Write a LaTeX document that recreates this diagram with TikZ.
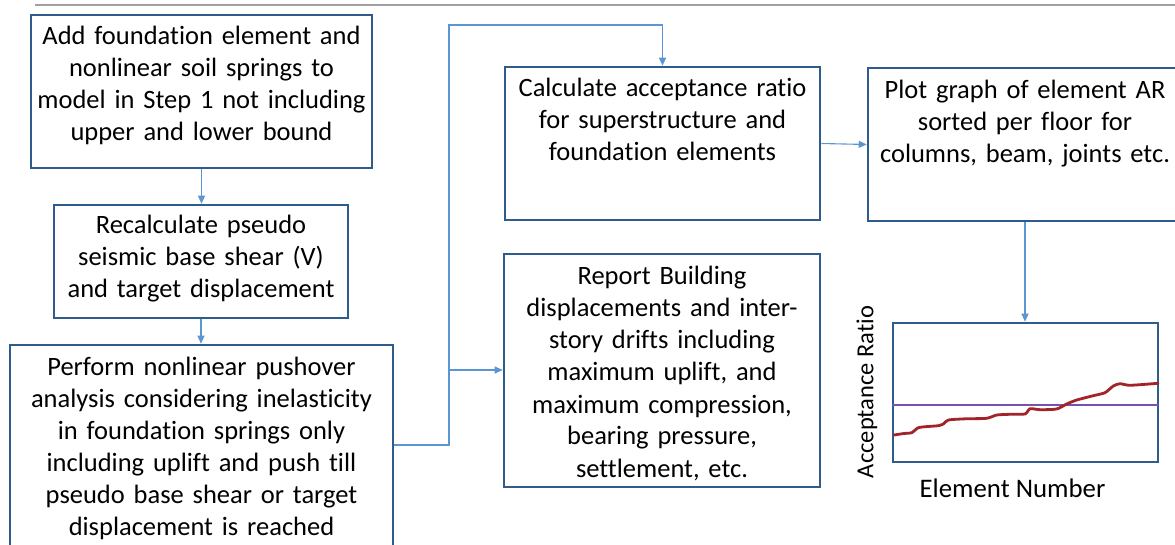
\documentclass[tikz,border=0pt]{standalone}
\usepackage{fontspec}
\setmainfont{Carlito}[Ligatures={NoCommon}]
\usetikzlibrary{arrows.meta,calc}

\definecolor{boxblue}{RGB}{46,93,140}
\definecolor{linkblue}{RGB}{91,150,212}
\definecolor{rulegray}{RGB}{160,160,160}
\definecolor{curvered}{RGB}{160,36,40}
\definecolor{limitpurple}{RGB}{120,80,175}

\tikzset{
  box/.style={draw=boxblue, line width=2.6pt, fill=white, inner sep=0pt},
  txt/.style={inner sep=0pt, text width=#1, align=center,
              font=\fontsize{26.5}{32}\selectfont, anchor=base},
  txt/.default=360pt,
  conn/.style={draw=linkblue, line width=1.1pt,
               -{Triangle[length=8pt,width=7pt]}},
  chartlbl/.style={inner sep=0pt, font=\fontsize{24.5}{28}\selectfont, anchor=base},
}

\begin{document}
\begin{tikzpicture}[x=1pt, y=-1pt]
\useasboundingbox (0,0) rectangle (1175,545);

% header rule
\draw[rulegray, line width=2.5pt] (35,5) -- (1175,5);

% process boxes
\node[box, minimum width=341pt, minimum height=153pt] (A) at (201.5,91.5) {};
\node[box, minimum width=294pt, minimum height=113pt] (B) at (201,261.5) {};
\node[box, minimum width=383pt, minimum height=215pt] (C) at (201.5,452.5) {};
\node[box, minimum width=315pt, minimum height=153pt] (D) at (662.5,143.5) {};
\node[box, minimum width=316pt, minimum height=233pt] (E) at (662,370.5) {};
\node[box, minimum width=314pt, minimum height=153pt] (F) at (1025,144.5) {};
\node[box, minimum width=265pt, minimum height=139pt] (G) at (1025.5,392.5) {};

% box texts
\node[txt] (At) at (201.5,45) {Add foundation element and\\nonlinear soil springs to\\model in Step 1 not including\\upper and lower bound};
\node[txt] (Bt) at (201,234) {Recalculate pseudo\\seismic base shear (V)\\and target displacement};
\node[txt] (Ct) at (201.5,375) {Perform nonlinear pushover\\analysis considering inelasticity\\in foundation springs only\\including uplift and push till\\pseudo base shear or target\\displacement is reached};
\node[txt] (Dt) at (662.5,96.7) {Calculate acceptance ratio\\for superstructure and\\foundation elements};
\node[txt] (Et) at (662,285) {Report Building\\displacements and inter-\\story drifts including\\maximum uplift, and\\maximum compression,\\bearing pressure,\\settlement, etc.};
\node[txt] (Ft) at (1025,98.3) {Plot graph of element AR\\sorted per floor for\\columns, beam, joints etc.};

% connectors
\coordinate (j1) at (449,445);
\coordinate (j2) at (449,25);
\coordinate (j3) at (449,370);
\draw[conn] (A.south) -- (A.south |- B.north);
\draw[conn] (B.south) -- (B.south |- C.north);
\draw[conn] (C.east |- j1) -- (j1) -- (j2) -- (j2 -| D.north) -- (D.north);
\draw[conn] (j3) -- (j3 -| E.west);
\draw[conn] (D.east) -- (F.west);
\draw[conn] (F.south) -- (F.south |- G.north);

% acceptance ratio chart
\draw[limitpurple, line width=1.2pt] (G.west |- 0,405) -- (G.east |- 0,405);
\draw[curvered, line width=2.8pt, line join=round, line cap=round]
  plot[smooth, tension=0.4] coordinates {
    (894,435) (904,433.5) (911.7,432.7) (918.3,427.7) (928,426.5) (938.3,425.7)
    (943.3,424) (948.3,420) (966,418.8) (986.7,418.3) (996.7,415) (1010,414.3)
    (1025,414) (1030,408.7) (1040,409.7) (1056.7,409) (1066.7,404) (1076.7,400)
    (1093.3,395.7) (1105,392.7) (1113.3,386) (1120,383.7) (1130,385.3) (1158,383.3)};

\node[chartlbl, rotate=90] (ylab) at (873.3,392) {Acceptance Ratio};
\node[chartlbl, font=\fontsize{26.8}{30}\selectfont] (xlab) at (1012.5,497) {Element Number};
\end{tikzpicture}
\end{document}
